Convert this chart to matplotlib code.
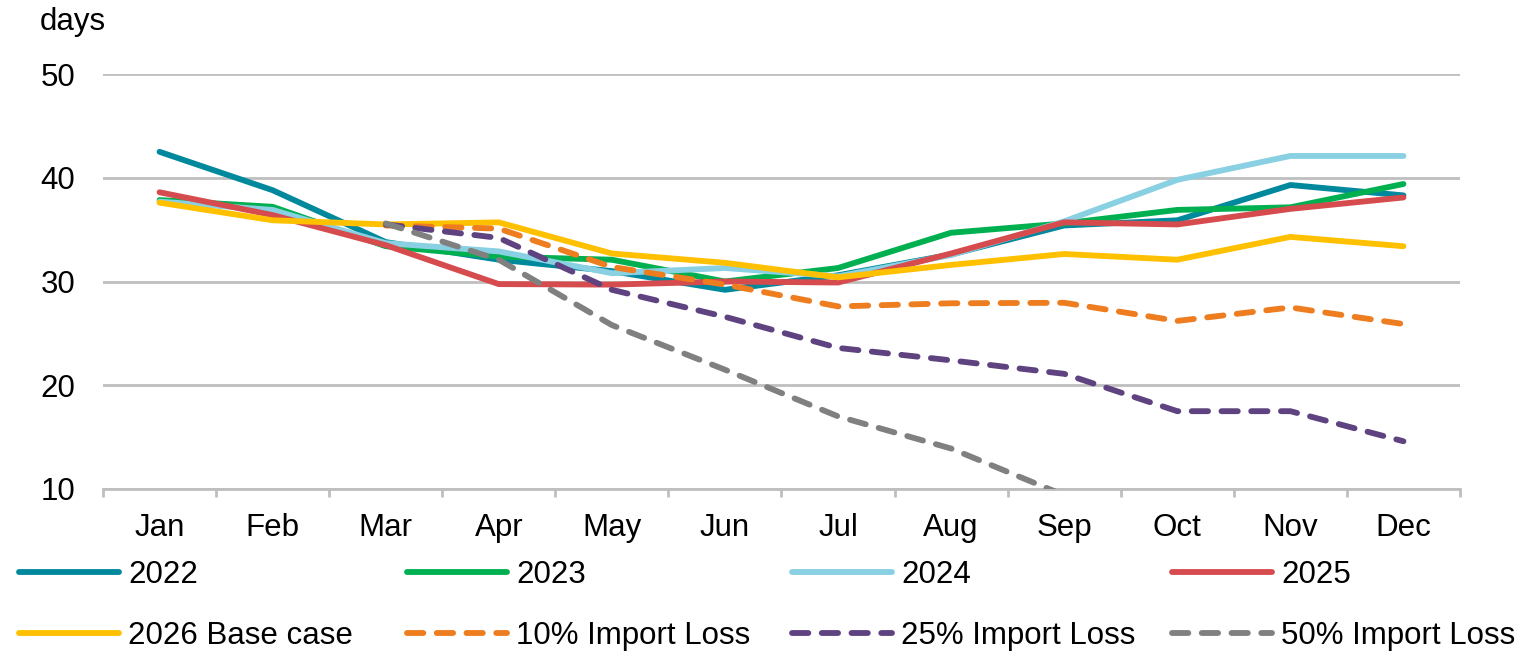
import numpy as np
import matplotlib
matplotlib.use("Agg")
import matplotlib.pyplot as plt
from matplotlib.ticker import FixedLocator

plt.rcParams["font.family"] = ["Liberation Sans", "DejaVu Sans"]

months = ["Jan", "Feb", "Mar", "Apr", "May", "Jun", "Jul", "Aug", "Sep", "Oct", "Nov", "Dec"]

y2022 = [42.5, 38.8, 33.8, 32.1, 31.0, 29.2, 30.6, 32.6, 35.4, 35.9, 39.3, 38.3]
y2023 = [37.85, 37.2, 33.4, 32.4, 32.1, 30.0, 31.3, 34.7, 35.6, 36.9, 37.15, 39.4]
y2024 = [37.7, 36.9, 33.7, 32.9, 30.8, 31.3, 30.5, 32.55, 35.8, 39.8, 42.1, 42.1]
y2025 = [38.6, 36.4, 33.5, 29.75, 29.7, 30.0, 29.9, 32.7, 35.7, 35.5, 37.0, 38.1]
base_2026 = [37.6, 35.9, 35.5, 35.7, 32.7, 31.8, 30.4, 31.6, 32.65, 32.1, 34.3, 33.4]
loss10 = [None, None, 35.4, 35.1, 31.4, 29.7, 27.6, 27.9, 27.95, 26.2, 27.5, 25.9]
loss25 = [None, None, 35.5, 34.2, 29.2, 26.6, 23.6, 22.4, 21.1, 17.5, 17.5, 14.6]
loss50 = [None, None, 35.6, 32.1, 25.8, 21.5, 17.0, 13.9, 9.4]

series = [
    ("2022", y2022, "#00889C", "-"),
    ("2023", y2023, "#00B050", "-"),
    ("2024", y2024, "#88D0E2", "-"),
    ("2025", y2025, "#D64B4D", "-"),
    ("2026 Base case", base_2026, "#FFC000", "-"),
    ("10% Import Loss", loss10, "#ED7D1F", "--"),
    ("25% Import Loss", loss25, "#5E4380", "--"),
    ("50% Import Loss", loss50, "#808080", "--"),
]

W, H = 1530, 651
FS = 22.5
fig = plt.figure(figsize=(W / 100, H / 100), dpi=100)
ax = fig.add_axes([103 / W, 1 - 489 / H, (1460 - 103) / W, (489 - 74) / H])

handles = {}
for name, vals, color, ls in series:
    v = np.array([np.nan if x is None else x for x in vals], dtype=float)
    x = np.arange(len(v))
    if ls == "--":
        ln, = ax.plot(x, v, color=color, lw=4.2, ls=(0, (2.8, 2.3)),
                      dash_capstyle="round", solid_capstyle="round", zorder=3)
    else:
        ln, = ax.plot(x, v, color=color, lw=4.2, solid_capstyle="round",
                      solid_joinstyle="miter", zorder=3)
    handles[name] = ln

ax.set_xlim(-0.5, 11.5)
ax.set_ylim(10, 50)
ax.set_yticks([10, 20, 30, 40, 50])
ax.grid(axis="y", color="#BFBFBF", lw=2.0, zorder=1)
for s in ["left", "right", "top"]:
    ax.spines[s].set_visible(False)
ax.spines["bottom"].set_color("#BFBFBF")
ax.spines["bottom"].set_linewidth(2.0)
ax.spines["bottom"].set_zorder(2)

ax.set_xticks(range(12))
ax.set_xticklabels(months)
ax.xaxis.set_minor_locator(FixedLocator(np.arange(-0.5, 12, 1)))
ax.tick_params(axis="x", which="major", length=0, pad=17, labelsize=FS)
ax.tick_params(axis="x", which="minor", length=6, width=2.0, color="#BFBFBF")
ax.tick_params(axis="y", length=0, pad=20, labelsize=FS)

fig.text(40 / W, 1 - 22 / H, "days", fontsize=FS, va="center", ha="left")

# legend: four columns of two rows each
columns = [["2022", "2026 Base case"], ["2023", "10% Import Loss"],
           ["2024", "25% Import Loss"], ["2025", "50% Import Loss"]]
col_x = [19, 407, 792, 1172]
for cx, names in zip(col_x, columns):
    fig.legend([handles[k] for k in names], names, loc="upper left",
               bbox_to_anchor=(cx / W, 1 - 560 / H), frameon=False, fontsize=FS,
               handlelength=3.2, handletextpad=0.3, labelspacing=1.0,
               borderaxespad=0, borderpad=0)

fig.savefig("out.png", dpi=100)
